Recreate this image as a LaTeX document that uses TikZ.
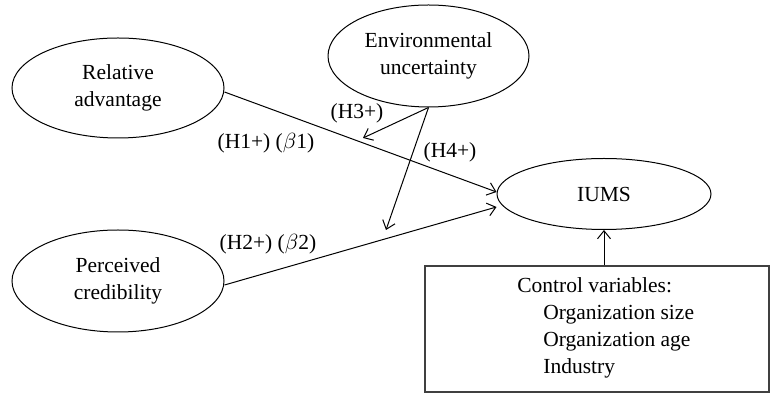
\documentclass[tikz,border=0pt]{standalone}
\usepackage{fontspec}
\setmainfont{Liberation Serif}
\usetikzlibrary{shapes.geometric,arrows.meta}

\begin{document}
\begin{tikzpicture}[x=0.5pt, y=-0.5pt, font=\fontsize{10.75}{13.5}\selectfont]
\useasboundingbox (0,0) rectangle (771,394);

\tikzset{ConstructStyle/.style = {
 shape = ellipse,
 draw,
 line width = 0.5pt,
 align = center,
 inner sep = 0pt} }

\node[ConstructStyle, minimum width=106pt, minimum height=50pt] (RA) at (118, 88) {Relative\\advantage};
\node[ConstructStyle, minimum width=106pt, minimum height=51pt] (PC) at (118, 281) {Perceived\\credibility};
\node[ConstructStyle, minimum width=100.5pt, minimum height=51pt] (EU) at (428.5, 56) {Environmental\\uncertainty};
\node[ConstructStyle, minimum width=107pt, minimum height=35.5pt] (IUMS) at (604, 194) {IUMS};

\node[draw=black!75, line width=0.55pt, minimum width=172pt, minimum height=63pt, inner sep=0pt] (CB) at (597, 329) {};
\node[anchor=west, align=left, inner sep=0pt] (CV) at (517, 327.5)
 {Control variables:\\\hspace{13pt}Organization size\\\hspace{13pt}Organization age\\\hspace{13pt}Industry};

\coordinate (M3) at (363, 138);
\coordinate (M4) at (386, 230);


\tikzset{EdgeStyle/.style = {line width=0.5pt, -{Straight Barb[length=4pt, width=6.5pt]}} }

\draw[EdgeStyle] ([yshift=-2pt]RA.east) -- ([yshift=1pt]IUMS.west);
\draw[EdgeStyle] ([yshift=-2pt]PC.east) -- ([yshift=-6.5pt]IUMS.west);
\draw[EdgeStyle] (EU.south) -- (M3);
\draw[EdgeStyle] (EU.south) -- (M4);
\draw[EdgeStyle] (CB.north -| IUMS.south) -- (IUMS.south);


\node (LH1) at (266, 143) {(H1+) ($\beta$1)};
\node (LH2) at (268, 244) {(H2+) ($\beta$2)};
\node (LH3) at (357, 113) {(H3+)};
\node (LH4) at (450, 152) {(H4+)};

\end{tikzpicture}
\end{document}
